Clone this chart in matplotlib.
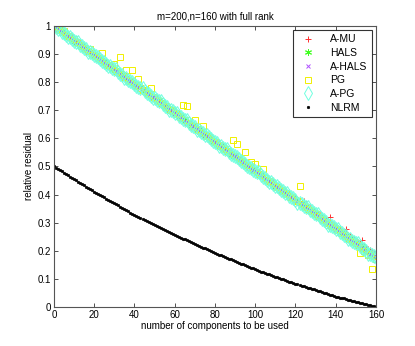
import matplotlib
matplotlib.use("Agg")
import matplotlib.pyplot as plt
import numpy as np

plt.rcParams["font.family"] = ["Liberation Sans", "DejaVu Sans"]

# number of components used: 0..160
components = list(range(161))

a_mu = [
    1.000, 0.995, 0.990, 0.985, 0.979, 0.974, 0.969, 0.964, 0.959, 0.954,
    0.948, 0.943, 0.938, 0.933, 0.928, 0.923, 0.917, 0.912, 0.907, 0.902,
    0.897, 0.892, 0.886, 0.881, 0.876, 0.871, 0.866, 0.861, 0.856, 0.850,
    0.845, 0.840, 0.835, 0.830, 0.825, 0.819, 0.814, 0.809, 0.804, 0.799,
    0.794, 0.788, 0.783, 0.778, 0.773, 0.768, 0.763, 0.757, 0.752, 0.747,
    0.742, 0.737, 0.732, 0.727, 0.721, 0.716, 0.703, 0.706, 0.701, 0.688,
    0.690, 0.685, 0.672, 0.675, 0.670, 0.657, 0.659, 0.654, 0.641, 0.644,
    0.639, 0.626, 0.628, 0.623, 0.610, 0.613, 0.608, 0.595, 0.598, 0.592,
    0.579, 0.582, 0.577, 0.564, 0.567, 0.561, 0.556, 0.551, 0.546, 0.541,
    0.536, 0.530, 0.525, 0.520, 0.515, 0.510, 0.505, 0.499, 0.494, 0.489,
    0.484, 0.479, 0.474, 0.469, 0.463, 0.458, 0.453, 0.448, 0.443, 0.438,
    0.434, 0.429, 0.424, 0.420, 0.415, 0.410, 0.404, 0.400, 0.395, 0.390,
    0.386, 0.381, 0.376, 0.371, 0.377, 0.361, 0.356, 0.351, 0.346, 0.340,
    0.336, 0.331, 0.326, 0.321, 0.316, 0.311, 0.306, 0.319, 0.296, 0.291,
    0.286, 0.281, 0.276, 0.271, 0.266, 0.278, 0.256, 0.251, 0.246, 0.241,
    0.236, 0.231, 0.226, 0.238, 0.216, 0.211, 0.206, 0.201, 0.196, 0.191,
    0.185,
]

hals = [
    1.000, 0.995, 0.990, 0.985, 0.983, 0.974, 0.969, 0.964, 0.959, 0.950,
    0.948, 0.943, 0.938, 0.933, 0.932, 0.923, 0.917, 0.912, 0.907, 0.898,
    0.897, 0.892, 0.886, 0.881, 0.876, 0.875, 0.866, 0.861, 0.856, 0.846,
    0.845, 0.840, 0.835, 0.830, 0.829, 0.819, 0.814, 0.809, 0.800, 0.799,
    0.794, 0.788, 0.783, 0.782, 0.773, 0.768, 0.763, 0.753, 0.752, 0.747,
    0.742, 0.737, 0.736, 0.727, 0.721, 0.716, 0.711, 0.706, 0.697, 0.696,
    0.690, 0.685, 0.680, 0.679, 0.670, 0.665, 0.659, 0.654, 0.645, 0.644,
    0.639, 0.634, 0.628, 0.627, 0.618, 0.613, 0.608, 0.603, 0.594, 0.592,
    0.587, 0.582, 0.577, 0.572, 0.571, 0.561, 0.556, 0.551, 0.542, 0.541,
    0.536, 0.530, 0.525, 0.524, 0.515, 0.510, 0.505, 0.499, 0.490, 0.489,
    0.484, 0.479, 0.474, 0.469, 0.467, 0.458, 0.453, 0.448, 0.443, 0.434,
    0.432, 0.427, 0.422, 0.417, 0.416, 0.407, 0.401, 0.396, 0.387, 0.386,
    0.381, 0.376, 0.370, 0.369, 0.360, 0.355, 0.350, 0.345, 0.344, 0.334,
    0.329, 0.324, 0.319, 0.318, 0.309, 0.303, 0.298, 0.293, 0.284, 0.283,
    0.278, 0.272, 0.267, 0.266, 0.257, 0.252, 0.247, 0.241, 0.240, 0.231,
    0.226, 0.221, 0.216, 0.215, 0.205, 0.200, 0.195, 0.190, 0.189, 0.180,
    0.176,
]

a_hals = [
    1.000, 0.995, 0.990, 0.985, 0.979, 0.971, 0.969, 0.964, 0.959, 0.954,
    0.948, 0.943, 0.938, 0.933, 0.928, 0.920, 0.917, 0.912, 0.907, 0.902,
    0.897, 0.892, 0.886, 0.881, 0.876, 0.871, 0.862, 0.861, 0.856, 0.850,
    0.845, 0.840, 0.835, 0.830, 0.825, 0.819, 0.814, 0.806, 0.804, 0.799,
    0.794, 0.788, 0.783, 0.778, 0.773, 0.765, 0.763, 0.757, 0.752, 0.747,
    0.742, 0.737, 0.732, 0.727, 0.721, 0.713, 0.711, 0.706, 0.701, 0.696,
    0.690, 0.685, 0.680, 0.675, 0.670, 0.662, 0.659, 0.654, 0.649, 0.644,
    0.639, 0.634, 0.628, 0.623, 0.618, 0.609, 0.608, 0.603, 0.598, 0.592,
    0.587, 0.582, 0.577, 0.572, 0.567, 0.557, 0.556, 0.551, 0.546, 0.541,
    0.536, 0.530, 0.525, 0.520, 0.515, 0.506, 0.505, 0.499, 0.494, 0.489,
    0.484, 0.479, 0.474, 0.469, 0.463, 0.454, 0.453, 0.448, 0.443, 0.438,
    0.432, 0.427, 0.422, 0.417, 0.412, 0.403, 0.401, 0.396, 0.391, 0.386,
    0.381, 0.376, 0.370, 0.365, 0.360, 0.351, 0.350, 0.345, 0.340, 0.334,
    0.329, 0.324, 0.319, 0.314, 0.309, 0.299, 0.298, 0.293, 0.288, 0.283,
    0.278, 0.272, 0.267, 0.262, 0.257, 0.248, 0.247, 0.241, 0.236, 0.231,
    0.226, 0.221, 0.216, 0.211, 0.205, 0.196, 0.195, 0.190, 0.185, 0.180,
    0.174,
]

pg = [
    1.000, 0.995, 0.990, 0.985, 0.979, 0.982, 0.969, 0.964, 0.959, 0.954,
    0.955, 0.943, 0.938, 0.933, 0.928, 0.923, 0.917, 0.912, 0.919, 0.902,
    0.897, 0.892, 0.886, 0.881, 0.905, 0.871, 0.866, 0.861, 0.856, 0.850,
    0.863, 0.840, 0.835, 0.889, 0.825, 0.819, 0.843, 0.809, 0.804, 0.843,
    0.794, 0.788, 0.810, 0.778, 0.773, 0.768, 0.763, 0.757, 0.780, 0.747,
    0.742, 0.737, 0.732, 0.727, 0.721, 0.716, 0.711, 0.706, 0.701, 0.696,
    0.690, 0.685, 0.680, 0.675, 0.720, 0.665, 0.714, 0.654, 0.649, 0.644,
    0.667, 0.634, 0.628, 0.623, 0.645, 0.613, 0.608, 0.603, 0.598, 0.592,
    0.587, 0.582, 0.577, 0.572, 0.567, 0.561, 0.556, 0.551, 0.546, 0.593,
    0.536, 0.580, 0.525, 0.520, 0.515, 0.551, 0.505, 0.499, 0.514, 0.489,
    0.508, 0.479, 0.474, 0.469, 0.490, 0.458, 0.453, 0.448, 0.443, 0.438,
    0.432, 0.427, 0.422, 0.417, 0.412, 0.407, 0.401, 0.396, 0.391, 0.386,
    0.381, 0.376, 0.429, 0.365, 0.360, 0.355, 0.350, 0.345, 0.340, 0.334,
    0.329, 0.324, 0.319, 0.314, 0.309, 0.303, 0.298, 0.293, 0.288, 0.283,
    0.278, 0.272, 0.267, 0.262, 0.257, 0.252, 0.247, 0.241, 0.236, 0.231,
    0.226, 0.221, 0.193, 0.211, 0.198, 0.200, 0.183, 0.190, 0.134, 0.180,
    0.170,
]

a_pg = [
    1.000, 0.995, 0.990, 0.989, 0.979, 0.974, 0.969, 0.960, 0.959, 0.954,
    0.948, 0.943, 0.943, 0.933, 0.928, 0.923, 0.917, 0.907, 0.907, 0.902,
    0.897, 0.892, 0.891, 0.881, 0.876, 0.871, 0.866, 0.857, 0.856, 0.850,
    0.845, 0.845, 0.835, 0.830, 0.825, 0.815, 0.814, 0.809, 0.804, 0.799,
    0.794, 0.788, 0.783, 0.778, 0.778, 0.768, 0.763, 0.757, 0.752, 0.742,
    0.742, 0.737, 0.732, 0.732, 0.721, 0.716, 0.711, 0.701, 0.701, 0.696,
    0.690, 0.690, 0.680, 0.675, 0.670, 0.665, 0.664, 0.654, 0.649, 0.644,
    0.639, 0.629, 0.628, 0.623, 0.618, 0.613, 0.613, 0.603, 0.598, 0.592,
    0.587, 0.582, 0.572, 0.572, 0.567, 0.561, 0.561, 0.551, 0.546, 0.541,
    0.536, 0.535, 0.525, 0.520, 0.515, 0.510, 0.500, 0.499, 0.494, 0.489,
    0.484, 0.479, 0.479, 0.469, 0.463, 0.458, 0.453, 0.443, 0.443, 0.438,
    0.432, 0.432, 0.422, 0.417, 0.412, 0.407, 0.406, 0.396, 0.391, 0.386,
    0.381, 0.371, 0.370, 0.365, 0.360, 0.355, 0.355, 0.345, 0.340, 0.334,
    0.329, 0.329, 0.319, 0.314, 0.309, 0.303, 0.293, 0.293, 0.288, 0.283,
    0.278, 0.277, 0.267, 0.262, 0.257, 0.252, 0.242, 0.241, 0.236, 0.231,
    0.226, 0.226, 0.216, 0.211, 0.205, 0.200, 0.190, 0.190, 0.185, 0.180,
    0.176,
]

nlrm = [
    0.500, 0.496, 0.491, 0.487, 0.482, 0.478, 0.473, 0.469, 0.464, 0.460,
    0.455, 0.451, 0.446, 0.442, 0.437, 0.433, 0.428, 0.424, 0.419, 0.415,
    0.410, 0.406, 0.402, 0.398, 0.394, 0.390, 0.385, 0.381, 0.377, 0.373,
    0.369, 0.365, 0.361, 0.357, 0.353, 0.349, 0.344, 0.340, 0.336, 0.332,
    0.328, 0.324, 0.321, 0.317, 0.314, 0.310, 0.306, 0.303, 0.299, 0.296,
    0.292, 0.288, 0.285, 0.281, 0.278, 0.274, 0.270, 0.267, 0.263, 0.260,
    0.256, 0.253, 0.250, 0.246, 0.243, 0.240, 0.237, 0.234, 0.230, 0.227,
    0.224, 0.221, 0.218, 0.214, 0.211, 0.208, 0.205, 0.202, 0.198, 0.195,
    0.192, 0.189, 0.186, 0.183, 0.180, 0.178, 0.175, 0.172, 0.169, 0.166,
    0.163, 0.160, 0.157, 0.154, 0.151, 0.149, 0.146, 0.143, 0.140, 0.137,
    0.134, 0.131, 0.129, 0.126, 0.124, 0.121, 0.118, 0.116, 0.113, 0.111,
    0.108, 0.105, 0.103, 0.100, 0.098, 0.095, 0.092, 0.090, 0.087, 0.085,
    0.082, 0.080, 0.077, 0.075, 0.073, 0.071, 0.068, 0.066, 0.064, 0.062,
    0.059, 0.057, 0.055, 0.053, 0.050, 0.048, 0.046, 0.044, 0.041, 0.039,
    0.037, 0.035, 0.033, 0.031, 0.030, 0.028, 0.026, 0.024, 0.022, 0.020,
    0.019, 0.017, 0.015, 0.013, 0.011, 0.009, 0.007, 0.006, 0.004, 0.002,
    0.000,
]

x_ticks = [0, 20, 40, 60, 80, 100, 120, 140, 160]
y_ticks = [0, 0.1, 0.2, 0.3, 0.4, 0.5, 0.6, 0.7, 0.8, 0.9, 1]
y_tick_labels = ["0", "0.1", "0.2", "0.3", "0.4", "0.5", "0.6", "0.7", "0.8", "0.9", "1"]

fig = plt.figure(figsize=(4.15, 3.46), dpi=100)
ax = fig.add_axes([0.130, 0.113, 0.776, 0.812])

series = [
    ("A-MU", a_mu, dict(marker="+", color="#ff3030", ms=5, mew=0.7)),
    ("HALS", hals, dict(marker=(6, 2, 0), color="#40ff20", ms=5, mew=0.7)),
    ("A-HALS", a_hals, dict(marker="x", color="#b050ff", ms=3.5, mew=0.7)),
    ("PG", pg, dict(marker="s", color="#f0f000", ms=5, mew=0.7, mfc="none")),
    ("A-PG", a_pg, dict(marker="d", color="#70ffe0", ms=7, mew=0.7, mfc="none")),
    ("NLRM", nlrm, dict(marker=".", color="black", ms=3.5, mew=0.5)),
]
for name, vals, style in series:
    ax.plot(components, vals, ls="none", label=name, **style)

ax.set_xlim(0, 160)
ax.set_ylim(0, 1)
ax.set_xticks(x_ticks)
ax.set_yticks(y_ticks)
ax.set_yticklabels(y_tick_labels)
ax.tick_params(direction="in", top=True, right=True, labelsize=7, length=3,
               width=0.6, colors="#333333", labelcolor="black", pad=2)
for sp in ax.spines.values():
    sp.set_color("#555555")
    sp.set_linewidth(0.8)

ax.set_xlabel("number of components to be used", fontsize=7, labelpad=1)
ax.set_ylabel("relative residual", fontsize=7, labelpad=3)
ax.set_title("m=200,n=160 with full rank", fontsize=7, pad=5)

leg = ax.legend(loc="upper right", fontsize=7.5, frameon=True, fancybox=False,
                borderaxespad=0.4, handlelength=2.2, handletextpad=1.0,
                labelspacing=0.35, borderpad=0.4)
leg.get_frame().set_edgecolor("black")
leg.get_frame().set_linewidth(0.8)

fig.savefig("out.png", dpi=100)
